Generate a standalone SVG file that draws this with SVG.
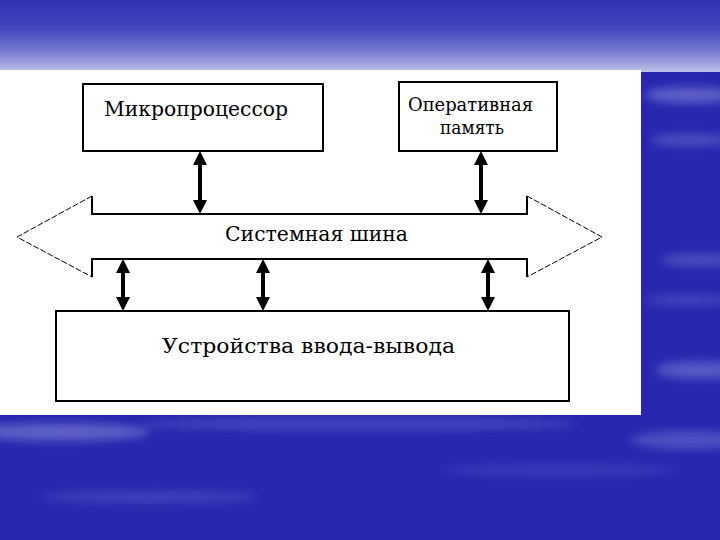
<svg xmlns="http://www.w3.org/2000/svg" width="720" height="540" viewBox="0 0 720 540">
  <defs>
    <linearGradient id="sky" x1="0" y1="0" x2="0" y2="1">
      <stop offset="0" stop-color="#3030b2"/>
      <stop offset="0.4" stop-color="#4446bc"/>
      <stop offset="0.75" stop-color="#7f83d2"/>
      <stop offset="1" stop-color="#bfc3ea"/>
    </linearGradient>
    <filter id="blur" x="-30%" y="-100%" width="160%" height="300%">
      <feGaussianBlur stdDeviation="5"/>
    </filter>
    <marker id="head" viewBox="0 0 14 14" refX="0" refY="7" markerWidth="14" markerHeight="14" markerUnits="userSpaceOnUse" orient="auto-start-reverse">
      <path d="M0,0 L14,7 L0,14 Z" fill="#000"/>
    </marker>
    <style>
      .box { fill: #fff; stroke: #000; stroke-width: 2; }
      .lbl { font-family: "DejaVu Serif", "Liberation Serif", serif; fill: #000; }
      .bus { fill: none; stroke: #000; stroke-width: 2; }
      .diag { fill: none; stroke: #000; stroke-width: 1; stroke-dasharray: 6 2; }
      .arr { stroke: #000; stroke-width: 4; marker-start: url(#head); marker-end: url(#head); }
    </style>
  </defs>

  <!-- background -->
  <rect x="0" y="0" width="720" height="540" fill="#2727b0"/>
  <rect x="0" y="0" width="720" height="72" fill="url(#sky)"/>
  <g filter="url(#blur)" fill="#c8ccf4">
    <ellipse cx="690" cy="95" rx="45" ry="8" opacity="0.35"/>
    <ellipse cx="690" cy="140" rx="40" ry="6" opacity="0.25"/>
    <ellipse cx="700" cy="260" rx="40" ry="6" opacity="0.25"/>
    <ellipse cx="690" cy="300" rx="45" ry="5" opacity="0.2"/>
    <ellipse cx="700" cy="370" rx="45" ry="9" opacity="0.3"/>
    <ellipse cx="60" cy="432" rx="90" ry="9" opacity="0.35"/>
    <ellipse cx="360" cy="424" rx="220" ry="6" opacity="0.2"/>
    <ellipse cx="690" cy="440" rx="60" ry="9" opacity="0.25"/>
    <ellipse cx="150" cy="497" rx="110" ry="7" opacity="0.15"/>
    <ellipse cx="560" cy="470" rx="120" ry="6" opacity="0.12"/>
  </g>

  <!-- white panel -->
  <rect x="0" y="70" width="641" height="345" fill="#ffffff"/>

  <g id="cpu">
    <rect class="box" x="83" y="84" width="240" height="67"/>
    <text class="lbl" x="104" y="116" font-size="21" textLength="184" lengthAdjust="spacingAndGlyphs">Микропроцессор</text>
  </g>

  <g id="ram">
    <rect class="box" x="399" y="82" width="158" height="69"/>
    <text class="lbl" x="408" y="111" font-size="19" textLength="125" lengthAdjust="spacingAndGlyphs">Оперативная</text>
    <text class="lbl" x="440" y="134" font-size="19" textLength="64" lengthAdjust="spacingAndGlyphs">память</text>
  </g>

  <g id="bus">
    <path class="bus" d="M92,196 L92,214 L527,214 L527,196"/>
    <path class="bus" d="M92,277 L92,259 L527,259 L527,277"/>
    <path class="diag" d="M92,196 L17,237 L92,277"/>
    <path class="diag" d="M527,196 L602,237 L527,277"/>
    <text class="lbl" x="225" y="241" font-size="20" textLength="183" lengthAdjust="spacingAndGlyphs">Системная шина</text>
  </g>

  <g id="io">
    <rect class="box" x="56" y="311" width="513" height="90"/>
    <text class="lbl" x="162" y="353" font-size="20" textLength="293" lengthAdjust="spacingAndGlyphs">Устройства ввода-вывода</text>
  </g>

  <g id="connectors">
    <line class="arr" x1="200" y1="165" x2="200" y2="200"/>
    <line class="arr" x1="481" y1="165" x2="481" y2="200"/>
    <line class="arr" x1="123" y1="273" x2="123" y2="297"/>
    <line class="arr" x1="263" y1="273" x2="263" y2="297"/>
    <line class="arr" x1="488" y1="273" x2="488" y2="297"/>
  </g>
</svg>
